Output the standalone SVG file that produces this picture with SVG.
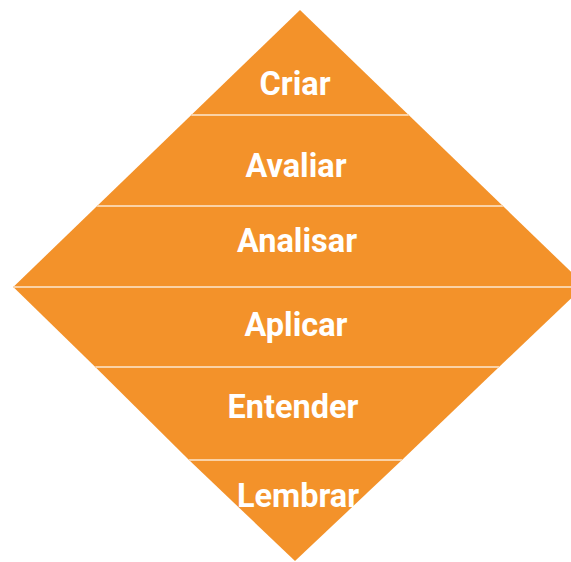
<svg xmlns="http://www.w3.org/2000/svg" width="571" height="562" viewBox="0 0 571 562">
  <style>
    .layer { fill: #F3922A; }
    .sep { stroke: #FAD2A6; stroke-width: 2; }
    .label { font-family: Roboto, "Liberation Sans", sans-serif; font-weight: bold; font-size: 32.5px; fill: #FFFFFF; text-anchor: middle; }
  </style>
  <!-- upper pyramid: three layers -->
  <g id="criar">
    <polygon class="layer" points="300,10 408.7,115 191.3,115"/>
    <text class="label" x="295" y="95">Criar</text>
  </g>
  <g id="avaliar">
    <polygon class="layer" points="191.3,115 408.7,115 502.9,206 97.1,206"/>
    <text class="label" x="296" y="177">Avaliar</text>
  </g>
  <g id="analisar">
    <polygon class="layer" points="97.1,206 502.9,206 586.7,287 13.3,287"/>
    <text class="label" x="297" y="252">Analisar</text>
  </g>
  <!-- lower inverted pyramid: three layers -->
  <g id="aplicar">
    <polygon class="layer" points="13.3,287 583,287 499,367 95.3,367"/>
    <text class="label" x="296" y="336">Aplicar</text>
  </g>
  <g id="entender">
    <polygon class="layer" points="95.3,367 499,367 402,460 189,460"/>
    <text class="label" x="293" y="418">Entender</text>
  </g>
  <g id="lembrar">
    <polygon class="layer" points="189,460 402,460 295,561"/>
    <text class="label" x="298" y="507">Lembrar</text>
  </g>
  <!-- dividing lines between layers -->
  <g id="dividers">
    <line class="sep" x1="191.3" y1="115" x2="408.7" y2="115"/>
    <line class="sep" x1="97.1" y1="206" x2="502.9" y2="206"/>
    <line class="sep" x1="13.3" y1="287" x2="586" y2="287"/>
    <line class="sep" x1="95.3" y1="367" x2="499" y2="367"/>
    <line class="sep" x1="189" y1="460" x2="402" y2="460"/>
  </g>
</svg>
